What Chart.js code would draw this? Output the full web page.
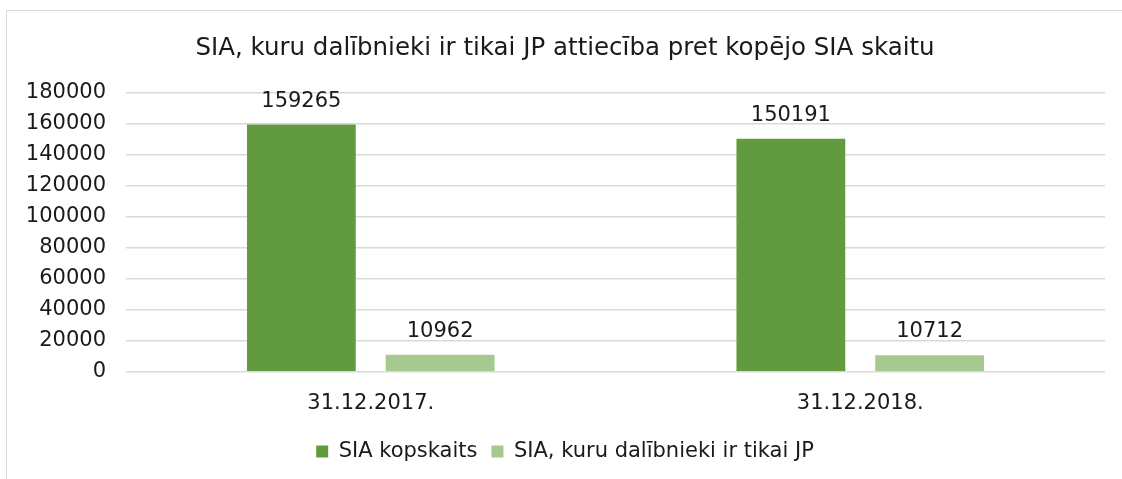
<!DOCTYPE html>
<html>
<head>
<meta charset="utf-8">
<script src="https://cdn.jsdelivr.net/npm/chart.js@4.4.1/dist/chart.umd.min.js"></script>
<style>
  html, body { margin: 0; padding: 0; background: #fff; overflow: hidden; }
  .frame { position: absolute; left: 6px; top: 10px; width: 1200px; height: 600px;
           border-left: 1px solid #d9d9d9; border-top: 1px solid #d9d9d9; }
  .wrap { position: absolute; left: 0; top: 0; width: 1122px; height: 479px; }
</style>
</head>
<body>
<div class="frame"></div>
<div class="wrap"><canvas id="chart"></canvas></div>
<script>
const categories = ['31.12.2017.', '31.12.2018.'];
const totalSia = [159265, 150191];
const onlyLegalSia = [10962, 10712];
const seriesNames = ['SIA kopskaits', 'SIA, kuru dalībnieki ir tikai JP'];
const chartTitle = 'SIA, kuru dalībnieki ir tikai JP attiecība pret kopējo SIA skaitu';

const FONT = "'DejaVu Sans', Verdana, sans-serif";

// draws the value above every bar
const valueLabels = {
  id: 'valueLabels',
  afterDatasetsDraw(chart) {
    const ctx = chart.ctx;
    ctx.save();
    ctx.font = '21px ' + FONT;
    ctx.fillStyle = '#1a1a1a';
    ctx.textAlign = 'center';
    ctx.textBaseline = 'bottom';
    chart.data.datasets.forEach((ds, i) => {
      chart.getDatasetMeta(i).data.forEach((bar, j) => {
        ctx.fillText(String(ds.data[j]), bar.x, bar.y - 13);
      });
    });
    ctx.restore();
  }
};

new Chart(document.getElementById('chart'), {
  type: 'bar',
  data: {
    labels: categories,
    datasets: [
      { label: seriesNames[0], data: totalSia, backgroundColor: '#629b3f' },
      { label: seriesNames[1], data: onlyLegalSia, backgroundColor: '#a6c98f' }
    ]
  },
  options: {
    responsive: true,
    maintainAspectRatio: false,
    animation: false,
    categoryPercentage: 0.567,
    barPercentage: 0.784,
    layout: { padding: { left: 25, right: 17, top: 20, bottom: 7 } },
    plugins: {
      title: {
        display: true,
        text: chartTitle,
        color: '#1a1a1a',
        font: { family: FONT, size: 24.5, weight: 'normal' },
        padding: { top: 14, bottom: 29 }
      },
      legend: {
        position: 'bottom',
        labels: {
          color: '#1a1a1a',
          font: { family: FONT, size: 21 },
          boxWidth: 12,
          boxHeight: 12,
          padding: 14
        }
      },
      tooltip: { enabled: false }
    },
    scales: {
      x: {
        grid: { display: false },
        border: { display: false },
        ticks: { color: '#1a1a1a', font: { family: FONT, size: 21 }, padding: 11 }
      },
      y: {
        min: 0,
        max: 180000,
        afterFit: scale => { scale.width = 101; },
        ticks: {
          stepSize: 20000,
          color: '#1a1a1a',
          font: { family: FONT, size: 21 },
          padding: 20,
          callback: v => String(v)
        },
        grid: { color: '#d9d9d9', lineWidth: 1.5, drawTicks: false },
        border: { display: false }
      }
    }
  },
  plugins: [valueLabels]
});
</script>
</body>
</html>
